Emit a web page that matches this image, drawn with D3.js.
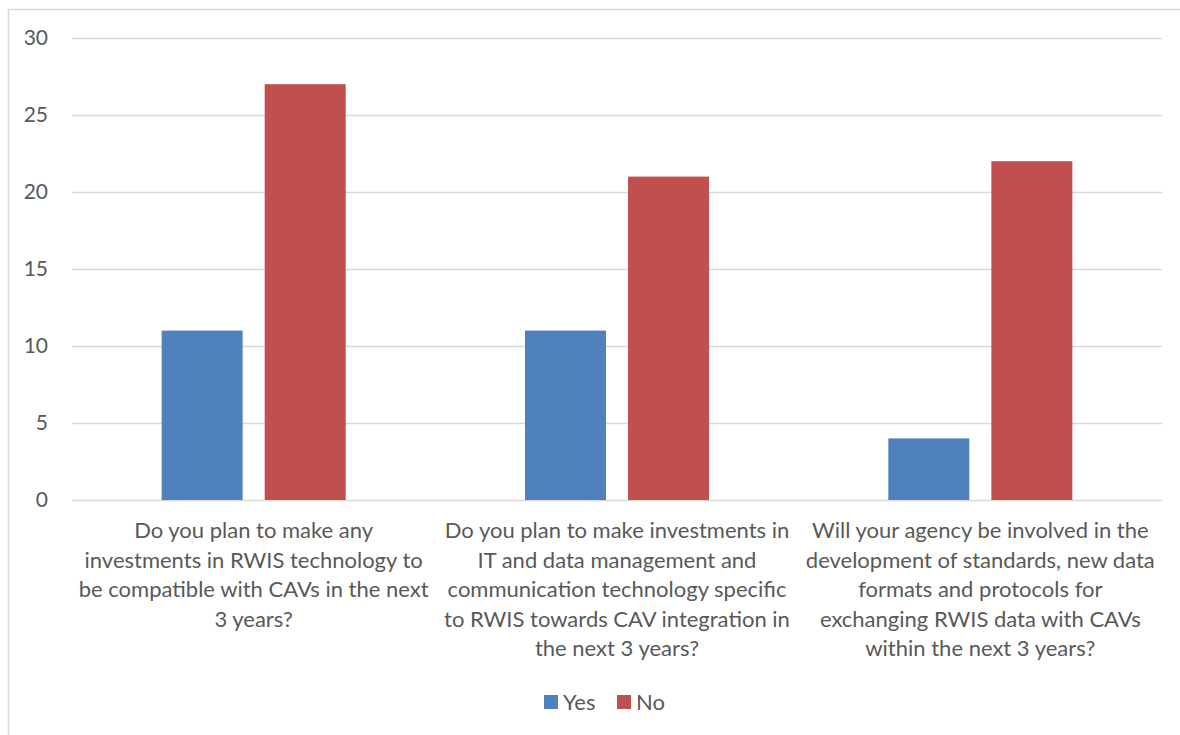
<!DOCTYPE html>
<meta charset="utf-8">
<script src="https://d3js.org/d3.v7.min.js"></script>
<style>
  body { margin: 0; background: #fff; }
  text { font-family: Lato, "Open Sans", sans-serif; fill: #595959; }
</style>
<div id="chart"></div>
<script>
// chart data
var categories = [
  ["Do you plan to make any", "investments in RWIS technology to", "be compatible with CAVs in the next", "3 years?"],
  ["Do you plan to make investments in", "IT and data management and", "communication technology specific", "to RWIS towards CAV integration in", "the next 3 years?"],
  ["Will your agency be involved in the", "development of standards, new data", "formats and protocols for", "exchanging RWIS data with CAVs", "within the next 3 years?"]
];
var series = ["Yes", "No"];
var yesValues = [11, 11, 4];
var noValues = [27, 21, 22];
var yTicks = [0, 5, 10, 15, 20, 25, 30];

var colors = {Yes: "#4f81bd", No: "#c0504d"};

var W = 1180, H = 735;
var svg = d3.select("#chart").append("svg").attr("width", W).attr("height", H);

// outer chart border
svg.append("rect")
  .attr("x", 8.5).attr("y", 9.5)
  .attr("width", W + 20).attr("height", H + 20)
  .attr("fill", "none").attr("stroke", "#d9d9d9").attr("stroke-width", 1.5);

var plotLeft = 72, plotRight = 1162, plotTop = 38, plotBottom = 500;

var x0 = d3.scaleBand().domain(d3.range(categories.length)).range([plotLeft, plotRight]);
var x1 = d3.scaleBand().domain(series).range([0, x0.bandwidth()])
  .paddingInner(0.214).paddingOuter(0.87);
var y = d3.scaleLinear().domain([0, 30]).range([plotBottom, plotTop]);

// gridlines
svg.append("g").selectAll("line").data(yTicks).enter().append("line")
  .attr("x1", plotLeft).attr("x2", plotRight)
  .attr("y1", function(d){ return y(d) + 0.5; })
  .attr("y2", function(d){ return y(d) + 0.5; })
  .attr("stroke", "#d9d9d9").attr("stroke-width", 1.5);

// y tick labels
svg.append("g").selectAll("text").data(yTicks).enter().append("text")
  .attr("x", 48).attr("y", function(d){ return y(d); })
  .attr("dy", "0.35em")
  .attr("text-anchor", "end")
  .style("font-size", "21px")
  .text(function(d){ return d; });

// bars
var rows = categories.map(function(c, i){ return {i: i, Yes: yesValues[i], No: noValues[i]}; });
var groups = svg.append("g").selectAll("g").data(rows).enter().append("g")
  .attr("transform", function(d){ return "translate(" + x0(d.i) + ",0)"; });
groups.selectAll("rect")
  .data(function(d){ return series.map(function(s){ return {key: s, value: d[s]}; }); })
  .enter().append("rect")
    .attr("x", function(d){ return x1(d.key); })
    .attr("y", function(d){ return y(d.value); })
    .attr("width", x1.bandwidth())
    .attr("height", function(d){ return y(0) - y(d.value); })
    .attr("fill", function(d){ return colors[d.key]; });

// category labels
categories.forEach(function(lines, i){
  var cx = x0(i) + x0.bandwidth() / 2;
  var t = svg.append("text")
    .attr("x", cx)
    .attr("y", 538)
    .attr("text-anchor", "middle")
    .style("font-size", "22px");
  lines.forEach(function(l, j){
    t.append("tspan").attr("x", cx)
      .attr("dy", j === 0 ? 0 : 29.5).text(l);
  });
});

// legend
var legendX = [544, 617];
series.forEach(function(s, i){
  svg.append("rect").attr("x", legendX[i]).attr("y", 695).attr("width", 14).attr("height", 14)
    .attr("fill", colors[s]);
  svg.append("text").attr("x", legendX[i] + 19).attr("y", 702).attr("dy", "0.35em")
    .style("font-size", "22px").text(s);
});
</script>
